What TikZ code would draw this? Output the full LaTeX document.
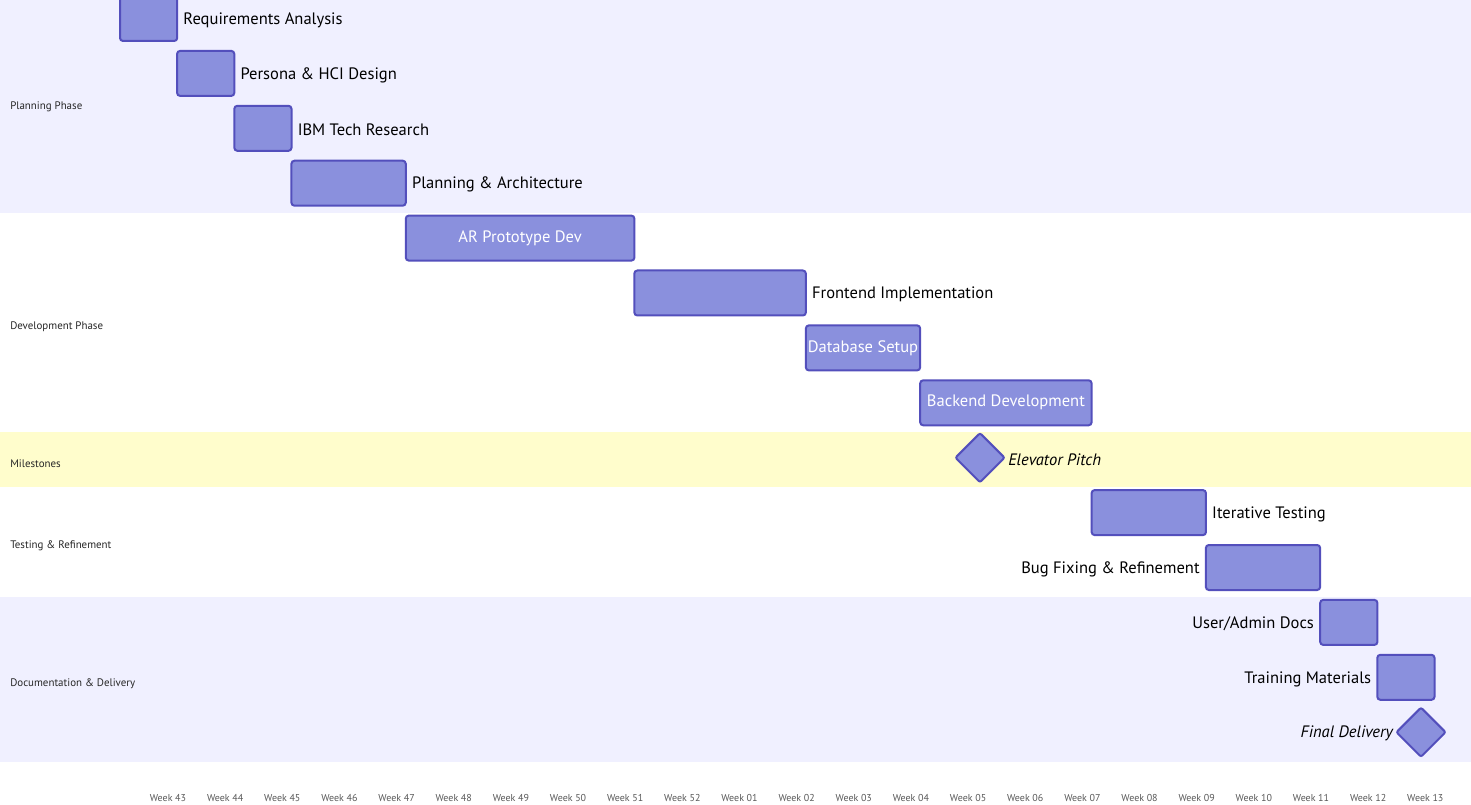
\documentclass[tikz,border=0pt]{standalone}
\usepackage{fontspec}
\setmainfont{PT Sans}
\usetikzlibrary{positioning,shapes.geometric}

\definecolor{taskfill}{HTML}{8A90DD}
\definecolor{taskline}{HTML}{534FBC}
\definecolor{bandblue}{HTML}{F0F0FF}
\definecolor{bandyellow}{HTML}{FFFDCC}

\tikzset{
    task/.style={draw=taskline,fill=taskfill,line width=1.5pt,rounded corners=2.25pt,minimum height=33.75pt,inner sep=0pt,text=white,font=\fontsize{12.4}{14}\selectfont},
    milestone/.style={diamond,draw=taskline,fill=taskfill,line width=1.5pt,minimum size=37.5pt,inner sep=0pt,rounded corners=1.5pt},
    tasklabel/.style={inner sep=0pt,yshift=-1.2pt,text=black,font=\fontsize{12.4}{14}\selectfont},
    seclabel/.style={anchor=west,inner sep=0pt,text=black!85,font=\fontsize{8.2}{9}\selectfont},
    weeklabel/.style={inner sep=0pt,text=black!65,font=\fontsize{7.5}{8}\selectfont}
}

\begin{document}
\begin{tikzpicture}[x=0.75pt,y=-0.75pt]
        \useasboundingbox (0,0) rectangle (1471,805);
        \fill[white](0,0) rectangle (1471,805);

        % section bands
        \fill[bandblue](0,-10) rectangle (1471,212.6);
        \fill[bandyellow](0,432.2) rectangle (1471,487.1);
        \fill[bandblue](0,596.9) rectangle (1471,761.6);

        \node[seclabel](sPlan) at (10,106.5) {Planning Phase};
        \node[seclabel](sDev) at (10,326.5) {Development Phase};
        \node[seclabel](sMile) at (10,463.5) {Milestones};
        \node[seclabel](sTest) at (10,545.5) {Testing \& Refinement};
        \node[seclabel](sDoc) at (10,683.5) {Documentation \& Delivery};

        % planning phase
        \node[task,minimum width=57.2*0.75pt](req) at (148.6,18.5) {};
        \node[tasklabel,right=3.75pt of req] (reqL) {Requirements Analysis};
        \node[task,minimum width=57.2*0.75pt](pers) at (205.7,73.4) {};
        \node[tasklabel,right=3.75pt of pers] (persL) {Persona \& HCI Design};
        \node[task,minimum width=57.2*0.75pt](ibm) at (262.9,128.3) {};
        \node[tasklabel,right=3.75pt of ibm] (ibmL) {IBM Tech Research};
        \node[task,minimum width=114.3*0.75pt](arch) at (348.6,183.2) {};
        \node[tasklabel,right=3.75pt of arch] (archL) {Planning \& Architecture};

        % development phase
        \node[task,minimum width=228.6*0.75pt](proto) at (520.1,238.1) {AR Prototype Dev};
        \node[task,minimum width=171.5*0.75pt](front) at (720.1,293) {};
        \node[tasklabel,right=3.75pt of front] (frontL) {Frontend Implementation};
        \node[task,minimum width=114.3*0.75pt](db) at (863,347.9) {Database Setup};
        \node[task,minimum width=171.4*0.75pt](back) at (1005.9,402.8) {Backend Development};

        % milestones
        \node[milestone](pitch) at (980,457.7) {};
        \node[tasklabel,right=1.5pt of pitch,font=\fontsize{12.4}{14}\selectfont\itshape] (pitchL) {Elevator Pitch};

        % testing
        \node[task,minimum width=114.3*0.75pt](iter) at (1148.8,512.6) {};
        \node[tasklabel,right=3.75pt of iter] (iterL) {Iterative Testing};
        \node[task,minimum width=114.3*0.75pt](bug) at (1263,567.5) {};
        \node[tasklabel,left=3.75pt of bug] (bugL) {Bug Fixing \& Refinement};

        % documentation
        \node[task,minimum width=57.2*0.75pt](docs) at (1348.8,622.4) {};
        \node[tasklabel,left=3.75pt of docs] (docsL) {User/Admin Docs};
        \node[task,minimum width=57.2*0.75pt](train) at (1405.9,677.3) {};
        \node[tasklabel,left=3.75pt of train] (trainL) {Training Materials};
        \node[milestone](final) at (1421,732.2) {};
        \node[tasklabel,left=1.5pt of final,font=\fontsize{12.4}{14}\selectfont\itshape] (finalL) {Final Delivery};

        % week axis
        \foreach \w [count=\k from 0] in {43,44,45,46,47,48,49,50,51,52,01,02,03,04,05,06,07,08,09,10,11,12,13}
            \node[weeklabel](wk\k) at (168+57.15*\k,798) {Week \w};
    \end{tikzpicture}
\end{document}
